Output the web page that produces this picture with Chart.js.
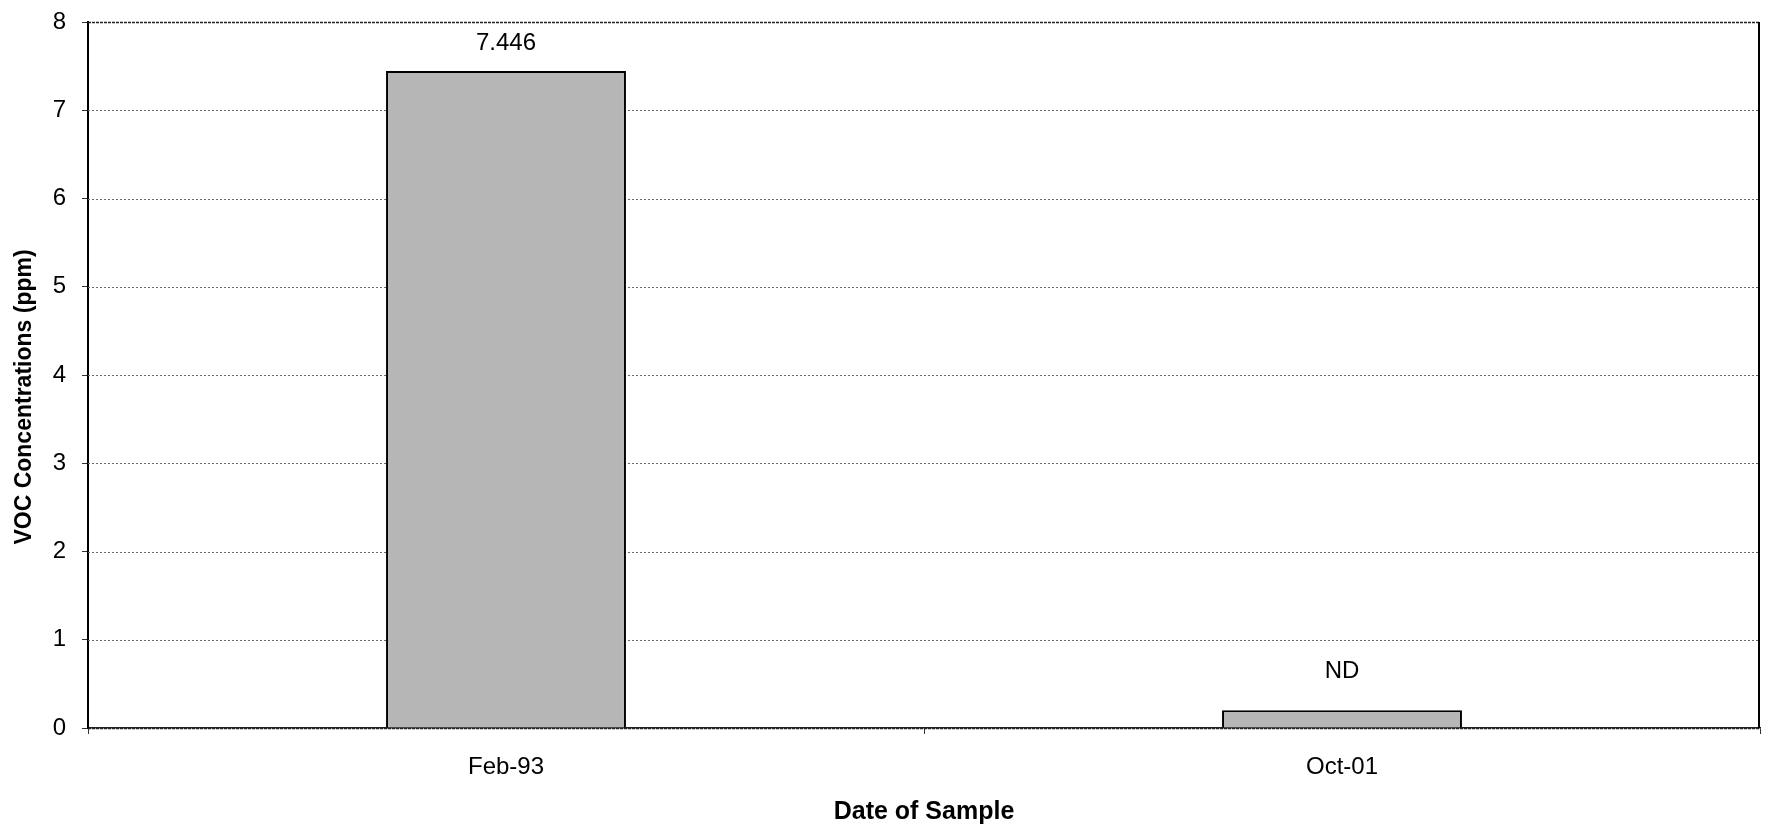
<!DOCTYPE html>
<html>
<head>
<meta charset="utf-8">
<script src="https://cdn.jsdelivr.net/npm/chart.js@4/dist/chart.umd.min.js"></script>
<style>
  html, body { margin: 0; padding: 0; background: #ffffff; }
  #wrap { width: 1765px; height: 830px; }
</style>
</head>
<body>
<div id="wrap"><canvas id="c" width="1765" height="830"></canvas></div>
<script>
// ---- data ----
const categories = ["Feb-93", "Oct-01"];
const vocValues = [7.446, 0.2];
const valueLabels = ["7.446", "ND"];
const yTickMin = 0;
const yTickMax = 8;
const yTickStep = 1;
const xAxisTitle = "Date of Sample";
const yAxisTitle = "VOC Concentrations (ppm)";

const FONT = "'Liberation Sans', Arial, Helvetica, sans-serif";

const decorPlugin = {
  id: 'decor',
  beforeDatasetsDraw(chart) {
    const {ctx, chartArea} = chart;
    const ys = chart.scales.y;
    ctx.save();
    ys.ticks.forEach(t => {
      const y = Math.round(ys.getPixelForValue(t.value)) + 0.5;
      ctx.beginPath();
      const edge = (t.value === yTickMax || t.value === yTickMin);
      ctx.strokeStyle = edge ? '#222' : '#6a6a6a';
      ctx.lineWidth = edge ? 1.5 : 1;
      ctx.setLineDash(edge ? [3, 1] : [2, 2]);
      ctx.moveTo(chartArea.left, y);
      ctx.lineTo(chartArea.right, y);
      ctx.stroke();
    });
    ctx.restore();
  },
  afterDraw(chart) {
    const {ctx, chartArea} = chart;
    ctx.save();
    ctx.strokeStyle = '#000';
    ctx.lineWidth = 2;
    ctx.setLineDash([]);
    ctx.beginPath();
    ctx.moveTo(chartArea.right - 1, chartArea.top);
    ctx.lineTo(chartArea.right - 1, chartArea.bottom);
    ctx.stroke();
    const meta = chart.getDatasetMeta(0);
    const offsets = [28, 39];
    ctx.fillStyle = '#000';
    ctx.font = "24px " + FONT;
    ctx.textAlign = 'center';
    ctx.textBaseline = 'middle';
    meta.data.forEach((bar, i) => {
      ctx.fillText(valueLabels[i], bar.x, bar.y - offsets[i]);
    });
    ctx.font = "bold 23px " + FONT;
    ctx.translate(25, 397);
    ctx.rotate(-Math.PI / 2);
    ctx.fillText(yAxisTitle, 0, 0);
    ctx.restore();
  }
};

new Chart(document.getElementById('c'), {
  type: 'bar',
  data: {
    labels: categories,
    datasets: [{
      data: vocValues,
      backgroundColor: '#b6b6b6',
      borderColor: '#000',
      borderWidth: 2,
      borderSkipped: 'bottom',
      barPercentage: 0.287,
      categoryPercentage: 1.0
    }]
  },
  options: {
    responsive: false,
    animation: false,
    devicePixelRatio: 1,
    layout: { padding: { top: 20, right: 5, left: 0, bottom: 0 } },
    plugins: {
      legend: { display: false },
      tooltip: { enabled: false }
    },
    scales: {
      x: {
        afterFit(scale) { scale.height = 102; },
        grid: { display: true, drawOnChartArea: false, drawTicks: true, tickLength: 6, tickColor: '#333', offset: true },
        border: { display: true, color: '#222', width: 1.5 },
        ticks: { color: '#000', font: { family: FONT, size: 24 }, padding: 19 },
        title: {
          display: true,
          text: xAxisTitle,
          color: '#000',
          font: { family: FONT, size: 25, weight: 'bold' },
          padding: { top: 0, bottom: 3 }
        }
      },
      y: {
        min: yTickMin,
        max: yTickMax,
        afterFit(scale) { scale.width = 88; },
        grid: { display: true, drawOnChartArea: false, drawTicks: true, tickLength: 6, tickColor: '#333' },
        border: { display: true, color: '#000', width: 2 },
        ticks: { stepSize: yTickStep, color: '#000', font: { family: FONT, size: 24, lineHeight: 0.5 }, padding: 16 }
      }
    }
  },
  plugins: [decorPlugin]
});
</script>
</body>
</html>
